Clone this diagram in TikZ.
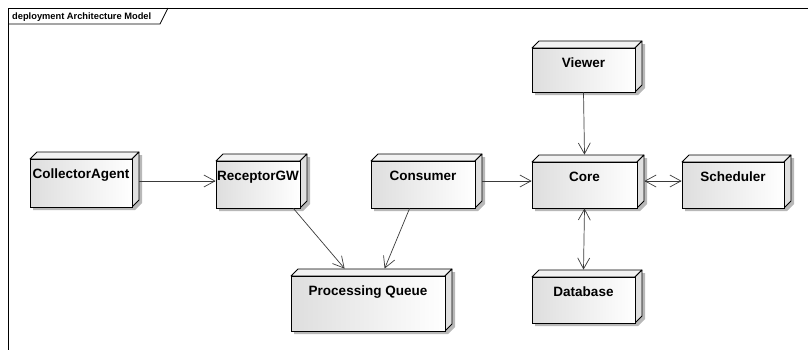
\documentclass[tikz,border=0pt]{standalone}
\usepackage{fontspec}
\setmainfont{Liberation Sans}
\usetikzlibrary{arrows.meta,calc}
\definecolor{edgec}{HTML}{3A3A3A}
\definecolor{topc}{HTML}{F2F2F2}
\definecolor{sidec}{HTML}{E0E0E0}
\definecolor{shadc}{HTML}{B8B8B8}
\tikzset{
  frontface/.style={draw=black, line width=0.8pt, left color=black!13, right color=white, inner sep=0pt, inner ysep=9pt,
     font=\fontsize{13.5}{15}\selectfont\bfseries, text height=10pt, anchor=center},
  conn/.style={draw=edgec, line width=0.7pt, -{Straight Barb[length=11pt,width=12pt]}},
  bconn/.style={draw=edgec, line width=0.7pt, {Straight Barb[length=11pt,width=12pt]}-{Straight Barb[length=11pt,width=12pt]}},
  facedraw/.style={draw=black, line width=0.8pt, line join=round},
}
\newcommand\dbx[6]{% name, left, top, right, bottom, text
  \fill[shadc] (#2+3,#5+3) -- (#2+3,#3+3) -- (#2+7+3,#3-7+3) -- (#4+7+3,#3-7+3) -- (#4+7+3,#5-7+3) -- (#4+3,#5+3) -- cycle;
  \filldraw[facedraw, fill=topc] (#2,#3) -- (#2+7,#3-7) -- (#4+7,#3-7) -- (#4,#3) -- cycle;
  \filldraw[facedraw, fill=sidec] (#4,#3) -- (#4+7,#3-7) -- (#4+7,#5-7) -- (#4,#5) -- cycle;
  \pgfmathsetmacro\dbxw{#4-#2}%
  \pgfmathsetmacro\dbxh{#5-#3}%
  \pgfmathsetmacro\dbxd{#5-#3-28}%
  \node[frontface, minimum width=\dbxw pt, minimum height=\dbxh pt, text depth=\dbxd pt] (#1) at ({(#2+#4)/2},{(#3+#5)/2}) {#6};
}
\begin{document}
\begin{tikzpicture}[x=1pt,y=-1pt]
\useasboundingbox (0,0) rectangle (808,349);
% frame
\draw[black, line width=0.8pt] (8,352) -- (8,8) -- (812,8);
\draw[black, line width=0.8pt] (8,24) -- (160,24) -- (168,8);
\node[anchor=base west, inner sep=0pt, font=\fontsize{9.3}{11}\selectfont\bfseries] (title) at (12,19.5) {deployment Architecture Model};
% boxes
\dbx{collector}{30}{159}{132}{207}{CollectorAgent}
\dbx{receptor}{216}{161}{300}{208}{ReceptorGW}
\dbx{consumer}{371}{161}{475}{208}{Consumer}
\dbx{core}{532}{162}{637}{208}{Core}
\dbx{scheduler}{682}{162}{784}{208}{Scheduler}
\dbx{viewer}{532}{48}{635}{92}{Viewer}
\dbx{database}{532}{277}{635}{323}{Database}
\dbx{queue}{291}{276}{445}{331}{Processing Queue}
% connectors
\draw[conn] ([xshift=7pt,yshift=2pt]collector.east) -- ([yshift=3.5pt]receptor.west);
\draw[conn] ([xshift=7pt,yshift=3.5pt]consumer.east) -- ([yshift=4pt]core.west);
\draw[bconn] ([xshift=7pt,yshift=4pt]core.east) -- ([yshift=4pt]scheduler.west);
\draw[conn] (viewer.south) -- ([yshift=7pt]core.north);
\draw[bconn] (core.south) -- ([yshift=7pt]database.north);
\draw[conn] ([xshift=-7pt]receptor.south east) -- ([xshift=54pt,yshift=7pt]queue.north west);
\draw[conn] ([xshift=39pt]consumer.south west) -- ([xshift=94pt,yshift=7pt]queue.north west);
\end{tikzpicture}
\end{document}
